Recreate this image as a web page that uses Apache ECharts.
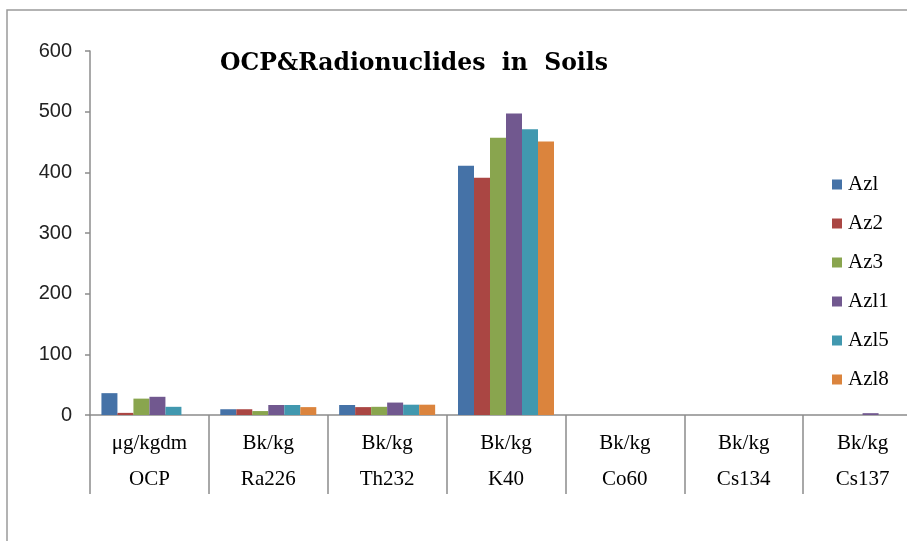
<!DOCTYPE html>
<html>
<head>
<meta charset="utf-8">
<script src="https://cdn.jsdelivr.net/npm/echarts@6/dist/echarts.min.js"></script>
<style>html,body{margin:0;padding:0;background:#fff;overflow:hidden;width:907px;height:541px}#c{width:940px;height:541px}</style>
</head>
<body>
<div id="c"></div>
<script>
var categories = ['OCP', 'Ra226', 'Th232', 'K40', 'Co60', 'Cs134', 'Cs137'];
var units = ['μg/kgdm', 'Bk/kg', 'Bk/kg', 'Bk/kg', 'Bk/kg', 'Bk/kg', 'Bk/kg'];
var seriesNames = ['Azl', 'Az2', 'Az3', 'Azl1', 'Azl5', 'Azl8'];
var az1 = [36, 9.5, 16.5, 411, 0, 0, 0];
var az2 = [3.5, 9.5, 13, 391, 0, 0, 0];
var az3 = [27, 6.5, 13.5, 457, 0, 0, 0];
var az11 = [30, 16.5, 20.5, 497, 0, 0, 3];
var az15 = [13.5, 16.5, 17, 471, 0, 0, 0];
var az18 = [0, 13, 17, 451, 0, 0, 0];
var yTicks = [0, 100, 200, 300, 400, 500, 600];
var colors = ['#4572A7', '#AA4643', '#89A54E', '#71588F', '#4198AF', '#DB843D'];

var allData = [az1, az2, az3, az11, az15, az18];
var chart = echarts.init(document.getElementById('c'));
var serif = "'Liberation Serif', 'Times New Roman', serif";
chart.setOption({
  animation: false,
  color: colors,
  title: {
    text: 'OCP&Radionuclides  in  Soils',
    left: 414, top: 52, textAlign: 'center', padding: 0,
    textStyle: {fontFamily: "'DejaVu Serif', serif", fontWeight: 'bold', fontSize: 23.5, color: '#000'}
  },
  graphic: [{
    type: 'rect', shape: {x: 7, y: 10, width: 1000, height: 700},
    style: {fill: 'none', stroke: '#9a9a9a', lineWidth: 1.5}, z: -1
  }],
  legend: {
    orient: 'vertical', left: 832, top: 174, padding: 0,
    itemWidth: 10, itemHeight: 10, itemGap: 18,
    icon: 'rect',
    textStyle: {fontFamily: serif, fontSize: 21, color: '#000', lineHeight: 20, padding: [0, 0, 0, 1]},
    data: seriesNames
  },
  grid: {left: 90, top: 51, width: 832, height: 364, containLabel: false},
  xAxis: {
    type: 'category', data: categories,
    axisLine: {lineStyle: {color: '#8c8c8c', width: 1.5}},
    axisTick: {show: true, interval: 0, alignWithLabel: false, length: 79, lineStyle: {color: '#8c8c8c', width: 1.5}},
    axisLabel: {
      margin: 10, interval: 0,
      formatter: function (v, i) { return units[i] + '\n' + v; },
      fontFamily: serif, fontSize: 21, color: '#000', lineHeight: 36
    }
  },
  yAxis: {
    type: 'value', min: 0, max: 600, interval: 100,
    axisLine: {show: true, lineStyle: {color: '#8c8c8c', width: 1.5}},
    axisTick: {show: true, length: 5, lineStyle: {color: '#8c8c8c', width: 1.5}},
    splitLine: {show: false},
    axisLabel: {
      margin: 18, fontFamily: "'Liberation Sans Narrow', 'Liberation Sans', Arial, sans-serif",
      fontSize: 20, color: '#222',
      formatter: function (v) { return yTicks.indexOf(v) >= 0 ? String(v) : ''; }
    }
  },
  series: seriesNames.map(function (n, i) {
    return {name: n, type: 'bar', data: allData[i], barWidth: 16, barGap: '0%'};
  })
});
</script>
</body>
</html>
